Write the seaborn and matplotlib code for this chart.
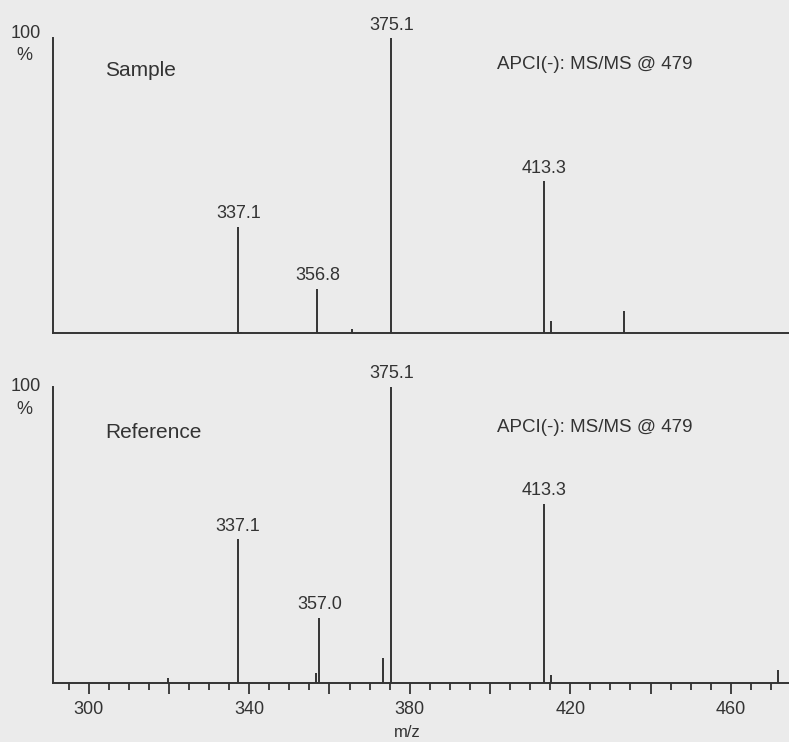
import numpy as np
import pandas as pd
import seaborn as sns
import matplotlib.pyplot as plt
from matplotlib.ticker import MultipleLocator, FuncFormatter

# Peak lists (m/z, relative intensity %)
sample_mz = [337.3, 337.9, 357.0, 365.7, 375.4, 413.5, 415.3, 433.3]
sample_int = [36.0, 0.5, 15.0, 1.4, 100.0, 51.5, 4.2, 7.6]
sample_labels = ['337.1', '', '356.8', '', '375.1', '413.3', '', '']

ref_mz = [319.8, 337.2, 356.7, 357.5, 373.4, 375.4, 413.5, 415.3, 471.8]
ref_int = [1.7, 48.5, 3.3, 22.0, 8.5, 100.0, 60.5, 2.7, 4.4]
ref_labels = ['', '337.1', '', '357.0', '', '375.1', '413.3', '', '']

x_ticks = [300, 340, 380, 420, 460]

sns.set_style("white")
plt.rcParams['font.family'] = ['Liberation Sans', 'DejaVu Sans']

bg = '#ebebeb'
ink = '#333333'
fs = 13

fig = plt.figure(figsize=(7.89, 7.42), dpi=100, facecolor=bg)
ax1 = fig.add_axes([0.0676, 0.5512, 0.94, 0.3976], facecolor=bg)
ax2 = fig.add_axes([0.0676, 0.0795, 0.94, 0.3995], facecolor=bg)


def draw_spectrum(ax, mz, inten, labels, name, name_y, title_y, top_y, ticks):
    df = pd.DataFrame({'mz': mz, 'int': inten, 'label': labels})
    ax.vlines(df['mz'], 0, df['int'], color=ink, linewidth=1.4)
    for _, r in df[df['label'] != ''].iterrows():
        ax.text(r['mz'], r['int'] + 1.5, r['label'], ha='center', va='bottom',
                fontsize=fs, color=ink)
    ax.set_xlim(291.2, 476)
    ax.set_ylim(0, 100)
    sns.despine(ax=ax, top=True, right=True)
    for s in ['left', 'bottom']:
        ax.spines[s].set_color(ink)
        ax.spines[s].set_linewidth(1.4)
    ax.set_yticks([])
    ax.text(-0.017, top_y, '100', transform=ax.transAxes, ha='right', va='center',
            fontsize=fs, color=ink)
    ax.text(-0.039, top_y - 0.077, '%', transform=ax.transAxes, ha='center',
            va='center', fontsize=fs, color=ink)
    ax.text(0.07, name_y, name, transform=ax.transAxes, ha='left', va='center',
            fontsize=15, color=ink)
    ax.text(0.598, title_y, 'APCI(-): MS/MS @ 479', transform=ax.transAxes,
            ha='left', va='center', fontsize=13.5, color=ink)
    if ticks:
        ax.xaxis.set_major_locator(MultipleLocator(20))
        ax.xaxis.set_minor_locator(MultipleLocator(5))
        ax.xaxis.set_major_formatter(FuncFormatter(
            lambda v, p: f'{v:.0f}' if int(round(v)) in x_ticks else ''))
        ax.tick_params(axis='x', which='major', bottom=True, direction='out',
                       length=8, width=1.3, color=ink, labelsize=fs,
                       labelcolor=ink, pad=5)
        ax.tick_params(axis='x', which='minor', bottom=True, direction='out',
                       length=5, width=1.3, color=ink)
        ax.set_xlabel('m/z', fontsize=12, color=ink)
        ax.xaxis.set_label_coords(0.477, -0.14)
    else:
        ax.set_xticks([])


draw_spectrum(ax1, sample_mz, sample_int, sample_labels, 'Sample', 0.89, 0.91, 1.016, False)
draw_spectrum(ax2, ref_mz, ref_int, ref_labels, 'Reference', 0.845, 0.863, 1.0, True)

plt.savefig('out.png', dpi=100, facecolor=bg)
